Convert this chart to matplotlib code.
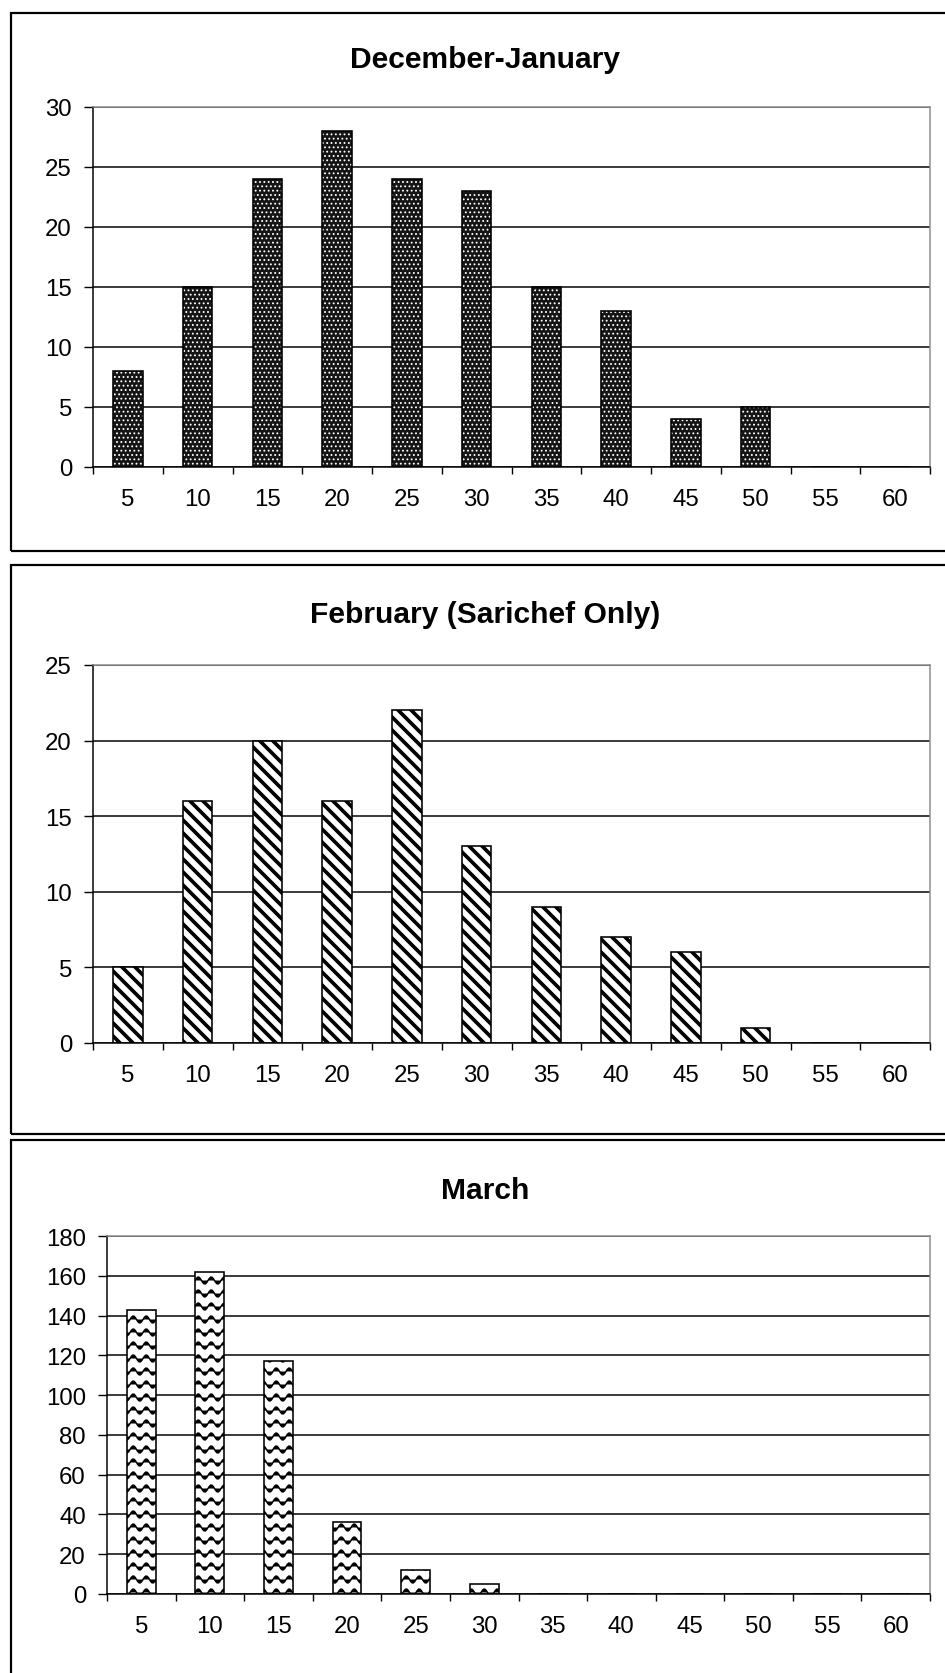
import warnings
import numpy as np
import matplotlib
matplotlib.use("Agg")
import matplotlib.pyplot as plt
import matplotlib.hatch as mhatch
from matplotlib.path import Path
from matplotlib.patches import Rectangle

warnings.filterwarnings("ignore")

############################################################################################################
# data
size_classes = ["5", "10", "15", "20", "25", "30", "35", "40", "45", "50", "55", "60"]
dec_jan = [8, 15, 24, 28, 24, 23, 15, 13, 4, 5, 0, 0]
february = [5, 16, 20, 16, 22, 13, 9, 7, 6, 1, 0, 0]
march = [143, 162, 117, 36, 12, 5, 0, 0, 0, 0, 0, 0]

titles = ["December-January", "February (Sarichef Only)", "March"]
y_max = [30, 25, 180]
y_step = [5, 5, 20]

############################################################################################################
# page layout, all in pixels of the 945x1674 output
DPI = 78
W, H = 945, 1674
PT = 72 / DPI  # points per pixel

panel_boxes = [(11, 14, 965, 552), (11, 566, 965, 1135), (11, 1141, 965, 1700)]
axes_boxes = [(93, 108, 930, 468), (93, 666, 930, 1044), (107, 1237, 930, 1595)]
title_baseline = [68, 623, 1199]
title_x = 485

hatches = ["...", "\\\\", "~"]
hatch_face = ["#151515", "white", "white"]
hatch_col = ["white", "black", "black"]
hatch_lw = [1.0, 3.4, 1.4]


############################################################################################################
# wavy hatch for the March bars (matplotlib has none built in)
class WaveHatch(mhatch.HatchPatternBase):
    n_pts = 61
    periods = 6
    amp = 0.045

    def __init__(self, hatch, density):
        self.num_lines = int(hatch.count("~") * density)
        self.num_vertices = self.num_lines * self.n_pts

    def set_vertices_and_codes(self, vertices, codes):
        xs = np.linspace(0, 1, self.n_pts)
        for i in range(self.num_lines):
            y0 = (i + 0.5) / self.num_lines
            s = slice(i * self.n_pts, (i + 1) * self.n_pts)
            vertices[s, 0] = xs
            vertices[s, 1] = y0 + self.amp * np.sin(2 * np.pi * self.periods * xs)
            codes[s] = Path.LINETO
            codes[i * self.n_pts] = Path.MOVETO


mhatch._hatch_types.append(WaveHatch)

plt.rcParams["font.family"] = ["Liberation Sans", "DejaVu Sans"]

fig = plt.figure(figsize=(W / DPI, H / DPI), dpi=DPI)

series = [dec_jan, february, march]
x = np.arange(len(size_classes))

for k in range(3):
    # panel frame
    x0, y0, x1, y1 = panel_boxes[k]
    fig.add_artist(Rectangle((x0 / W, 1 - y1 / H), (x1 - x0) / W, (y1 - y0) / H,
                             transform=fig.transFigure, fill=False,
                             edgecolor="black", lw=2.2 * PT, clip_on=False))

    l, t, r, b = axes_boxes[k]
    ax = fig.add_axes([l / W, 1 - b / H, (r - l) / W, (b - t) / H])

    with plt.rc_context({"hatch.linewidth": hatch_lw[k]}):
        fill = ax.bar(x, series[k], width=0.42, color=hatch_face[k],
                      edgecolor=hatch_col[k], hatch=hatches[k], lw=0, zorder=2)
    for p in fill:
        if hasattr(p, "set_hatch_linewidth"):
            p.set_hatch_linewidth(hatch_lw[k])
    ax.bar(x, series[k], width=0.42, fill=False, edgecolor="black",
           lw=1.6 * PT, zorder=3)

    ax.set_xlim(-0.5, len(size_classes) - 0.5)
    ax.set_ylim(0, y_max[k])
    ax.set_yticks(np.arange(0, y_max[k] + 1, y_step[k]))

    # tick marks between categories, labels under the bars
    ax.set_xticks(np.arange(-0.5, len(size_classes), 1))
    ax.set_xticklabels([])
    ax.set_xticks(x, minor=True)
    ax.set_xticklabels(size_classes, minor=True)
    ax.tick_params(axis="x", which="major", direction="out", length=7 * PT,
                   width=1.4 * PT, color="black")
    ax.tick_params(axis="x", which="minor", length=0, pad=21 * PT,
                   labelsize=24 * PT, labelcolor="black")
    ax.tick_params(axis="y", direction="out", length=9 * PT, width=1.4 * PT,
                   pad=12 * PT, labelsize=24 * PT, labelcolor="black")

    ax.set_axisbelow(True)
    ax.yaxis.grid(True, color="black", lw=1.5 * PT)
    ax.xaxis.grid(False)
    for side in ["left", "bottom"]:
        ax.spines[side].set_color("black")
        ax.spines[side].set_linewidth(1.5 * PT)
    for side in ["top", "right"]:
        ax.spines[side].set_color("#8c8c8c")
        ax.spines[side].set_linewidth(1.5 * PT)

    fig.text(title_x / W, 1 - title_baseline[k] / H, titles[k], ha="center",
             va="baseline", fontsize=30 * PT, fontweight="bold")

fig.savefig("out.png", dpi=DPI)
